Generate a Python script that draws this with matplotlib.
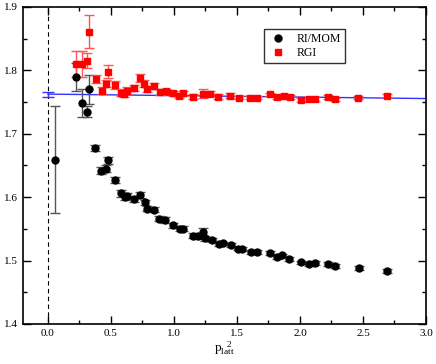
import numpy as np
import matplotlib.pyplot as plt
from matplotlib.ticker import MultipleLocator
from matplotlib.lines import Line2D

plt.rcParams['font.family'] = ['Liberation Serif', 'DejaVu Serif']
plt.rcParams['mathtext.fontset'] = 'custom'
plt.rcParams['mathtext.rm'] = 'Liberation Serif'

# RI/MOM (black circles)
p_mom = [0.06, 0.22, 0.27, 0.31, 0.325, 0.375, 0.42, 0.46, 0.476, 0.53,
         0.58, 0.61, 0.63, 0.68, 0.73, 0.77, 0.785, 0.84, 0.88, 0.93,
         0.99, 1.05, 1.075, 1.15, 1.19, 1.23, 1.25, 1.30, 1.36, 1.39,
         1.45, 1.51, 1.54, 1.61, 1.66, 1.76, 1.82, 1.86, 1.91, 2.01,
         2.07, 2.12, 2.225, 2.28, 2.47, 2.69]
z_mom = [1.659, 1.789, 1.749, 1.735, 1.770, 1.677, 1.642, 1.645, 1.658, 1.627,
         1.606, 1.600, 1.602, 1.597, 1.603, 1.592, 1.582, 1.580, 1.566, 1.564,
         1.556, 1.550, 1.550, 1.539, 1.538, 1.545, 1.535, 1.533, 1.526, 1.527,
         1.525, 1.519, 1.518, 1.514, 1.513, 1.512, 1.506, 1.508, 1.503, 1.497,
         1.495, 1.496, 1.495, 1.491, 1.488, 1.484]
e_mom = [0.084, 0.022, 0.022, 0.008, 0.023, 0.005, 0.005, 0.005, 0.006, 0.005,
         0.005, 0.005, 0.004, 0.004, 0.005, 0.004, 0.004, 0.004, 0.004, 0.004,
         0.004, 0.004, 0.004, 0.004, 0.004, 0.006, 0.004, 0.003, 0.003, 0.003,
         0.003, 0.003, 0.003, 0.003, 0.003, 0.003, 0.003, 0.003, 0.003, 0.003,
         0.003, 0.003, 0.003, 0.003, 0.003, 0.003]

# RGI (red squares)
p_rgi = [0.225, 0.27, 0.31, 0.325, 0.38, 0.43, 0.46, 0.475, 0.53, 0.58,
         0.605, 0.63, 0.68, 0.73, 0.76, 0.79, 0.84, 0.89, 0.94, 0.99,
         1.04, 1.075, 1.15, 1.23, 1.29, 1.35, 1.445, 1.52, 1.60, 1.66,
         1.76, 1.82, 1.87, 1.92, 2.01, 2.07, 2.12, 2.225, 2.28, 2.46, 2.69]
z_rgi = [1.810, 1.810, 1.815, 1.861, 1.786, 1.768, 1.779, 1.798, 1.777, 1.765,
         1.763, 1.768, 1.772, 1.788, 1.779, 1.771, 1.775, 1.766, 1.767, 1.764,
         1.760, 1.764, 1.758, 1.763, 1.763, 1.758, 1.760, 1.757, 1.757, 1.757,
         1.762, 1.758, 1.760, 1.758, 1.753, 1.754, 1.755, 1.758, 1.754, 1.757, 1.760]
e_rgi = [0.020, 0.020, 0.012, 0.026, 0.006, 0.006, 0.006, 0.010, 0.006, 0.005,
         0.005, 0.005, 0.005, 0.006, 0.005, 0.005, 0.005, 0.005, 0.004, 0.004,
         0.004, 0.004, 0.004, 0.007, 0.004, 0.004, 0.004, 0.003, 0.003, 0.003,
         0.003, 0.003, 0.003, 0.003, 0.003, 0.003, 0.003, 0.003, 0.003, 0.003, 0.003]

# constant fit to RGI
fit_x = [0.0, 3.0]
fit_y = [1.7625, 1.7555]
fit_err = 0.004

fig = plt.figure(figsize=(4.36, 3.64), dpi=100)
ax = fig.add_axes([0.052, 0.11, 0.925, 0.871])

ax.axvline(0.0, color='black', ls=(0, (4, 3)), lw=0.8)

ax.plot(fit_x, fit_y, color='#3333ff', lw=1.0, zorder=2)
ax.errorbar([fit_x[0]], [fit_y[0]], yerr=fit_err, color='#3333ff', lw=1.0,
            capsize=4, fmt='none', zorder=2)

ax.errorbar(p_mom, z_mom, yerr=e_mom, fmt='o', color='black', ms=5,
            ecolor='#555555', elinewidth=1, capsize=3.5, capthick=1, zorder=3)
ax.errorbar(p_rgi, z_rgi, yerr=e_rgi, fmt='s', color='red', ms=4.5,
            ecolor='#ff5555', elinewidth=1, capsize=3.5, capthick=1, zorder=3)

ax.set_xlim(-0.2, 3.0)
ax.set_ylim(1.4, 1.9)
ax.xaxis.set_major_locator(MultipleLocator(0.5))
ax.xaxis.set_minor_locator(MultipleLocator(0.25))
ax.yaxis.set_major_locator(MultipleLocator(0.1))
ax.yaxis.set_minor_locator(MultipleLocator(0.05))
ax.xaxis.set_major_formatter(plt.FormatStrFormatter('%.1f'))
ax.yaxis.set_major_formatter(plt.FormatStrFormatter('%.1f'))
ax.tick_params(which='both', direction='in', top=True, right=True,
               labelsize=8, width=1)
ax.tick_params(which='major', length=6)
ax.tick_params(which='minor', length=3)
for s in ax.spines.values():
    s.set_linewidth(1.2)

ax.set_xlabel(r'$\mathregular{p_{latt}^{\ \ 2}}$', fontsize=9.5, labelpad=1)

handles = [Line2D([], [], ls='none', marker='o', color='black', ms=5),
           Line2D([], [], ls='none', marker='s', color='red', ms=4.5)]
leg = ax.legend(handles, ['RI/MOM', 'RGI'], loc='upper left',
                bbox_to_anchor=(0.583, 0.948), fontsize=8.5,
                frameon=True, fancybox=False, edgecolor='black',
                handletextpad=0.6, borderpad=0.35, labelspacing=0.15,
                handlelength=1.8)
leg.get_frame().set_linewidth(1.0)

fig.savefig('out.png', dpi=100)
